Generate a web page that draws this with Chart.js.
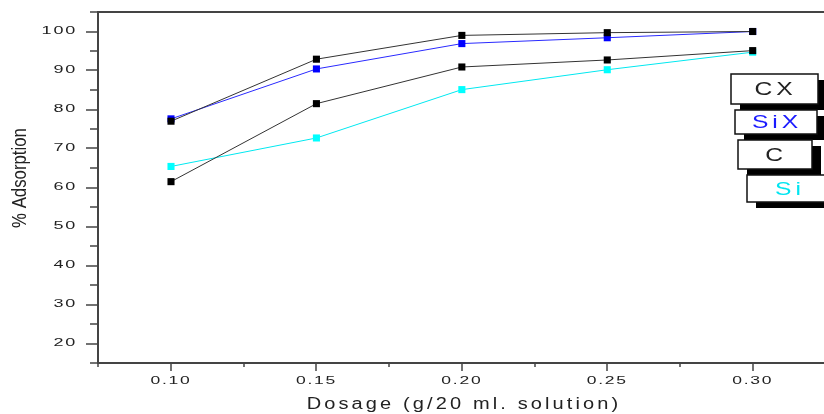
<!DOCTYPE html>
<html>
<head>
<meta charset="utf-8">
<script src="https://cdn.jsdelivr.net/npm/chart.js@4"></script>
<style>
  html, body { margin: 0; padding: 0; background: #fff; overflow: hidden; }
  #wrap { width: 840px; height: 414px; }
</style>
</head>
<body>
<div id="wrap"><canvas id="myChart"></canvas></div>
<script>
const dosage = [0.10, 0.15, 0.20, 0.25, 0.30];
const cx  = [77.0, 92.9, 99.0, 99.7, 100.0];
const six = [77.6, 90.4, 96.9, 98.4, 100.0];
const c   = [61.5, 81.5, 90.9, 92.7, 95.1];
const si  = [65.4, 72.7, 85.1, 90.2, 94.7];
const yTickLabels = [20, 30, 40, 50, 60, 70, 80, 90, 100];
const xTickLabels = [0.10, 0.15, 0.20, 0.25, 0.30];
const xTitle = 'Dosage (g/20 ml. solution)';
const yTitle = '% Adsorption';

const pts = arr => dosage.map((x, i) => ({ x: x, y: arr[i] }));

function series(label, data, line, mark) {
  return {
    label: label,
    data: pts(data),
    borderColor: line,
    borderWidth: 1,
    backgroundColor: mark,
    pointBackgroundColor: mark,
    pointBorderColor: mark,
    pointStyle: 'rect',
    pointRadius: 5,
    pointBorderWidth: 0,
    tension: 0
  };
}

// boxed legend on the right, with black drop shadows
const boxes = [
  { label: 'CX',  color: '#222222', x: 731, y: 74,  w: 87, h: 30 },
  { label: 'SiX', color: '#1a1aff', x: 735, y: 110, w: 82, h: 24 },
  { label: 'C',   color: '#222222', x: 738, y: 140, w: 74, h: 29 },
  { label: 'Si',  color: '#00e5f0', x: 747, y: 175, w: 84, h: 27 }
];

const FONT = '"Liberation Sans", Arial, sans-serif';

// the original uses a wide, spaced font; stretch text horizontally
function wideText(ctx, text, x, y, opts) {
  ctx.save();
  ctx.font = opts.font;
  ctx.letterSpacing = (opts.spacing || 0) + 'px';
  ctx.fillStyle = opts.color || '#222';
  ctx.textAlign = opts.align || 'center';
  ctx.textBaseline = 'middle';
  ctx.translate(x, y);
  if (opts.rotate) ctx.rotate(opts.rotate);
  ctx.scale(opts.sx || 1, 1);
  ctx.fillText(text, 0, 0);
  ctx.restore();
}

const frame = {
  id: 'frame',
  afterDraw(chart) {
    const ctx = chart.ctx;
    const a = chart.chartArea;
    const xs = chart.scales.x, ys = chart.scales.y;
    ctx.save();
    ctx.strokeStyle = '#444';
    ctx.lineWidth = 2;
    ctx.beginPath();
    ctx.moveTo(a.left, a.top);
    ctx.lineTo(a.right, a.top);
    ctx.stroke();

    // tick marks
    ctx.lineWidth = 1.5;
    ctx.beginPath();
    for (let i = 0; i <= 10; i++) {
      const v = 0.075 + i * 0.025;
      const px = Math.round(xs.getPixelForValue(v));
      const len = i % 2 === 1 ? 8 : 4;
      ctx.moveTo(px, a.bottom);
      ctx.lineTo(px, a.bottom + len);
    }
    for (let v = 15; v <= 105; v += 5) {
      const py = Math.round(ys.getPixelForValue(v));
      const len = v % 10 === 0 ? 12 : 8;
      ctx.moveTo(a.left, py);
      ctx.lineTo(a.left - len, py);
    }
    ctx.stroke();
    ctx.restore();

    // tick labels
    const tickFont = '10px ' + FONT;
    xTickLabels.forEach(v => {
      wideText(ctx, v.toFixed(2), xs.getPixelForValue(v), a.bottom + 18,
        { font: tickFont, spacing: 1, sx: 1.75 });
    });
    yTickLabels.forEach(v => {
      wideText(ctx, String(v), a.left - 21, ys.getPixelForValue(v),
        { font: tickFont, spacing: 1, sx: 1.8, align: 'right' });
    });

    // axis titles
    wideText(ctx, xTitle, 464, 405, { font: '16px ' + FONT, spacing: 2.5, sx: 1.25 });
    wideText(ctx, yTitle, 20, 178, { font: '20px ' + FONT, sx: 0.84, rotate: -Math.PI / 2 });

    // legend boxes
    ctx.save();
    boxes.forEach(b => {
      ctx.fillStyle = '#000';
      ctx.fillRect(b.x + 9, b.y + 6, b.w, b.h);
      ctx.fillStyle = '#fff';
      ctx.fillRect(b.x, b.y, b.w, b.h);
      ctx.strokeStyle = '#111';
      ctx.lineWidth = 1.5;
      ctx.strokeRect(b.x, b.y, b.w, b.h);
    });
    ctx.restore();
    boxes.forEach(b => {
      const cxp = b.label === 'Si' ? 789 : b.x + b.w / 2;
      wideText(ctx, b.label, cxp + 1, b.y + b.h / 2 + 1,
        { font: '19px ' + FONT, spacing: 3, sx: 1.3, color: b.color });
    });
  }
};

new Chart(document.getElementById('myChart'), {
  type: 'line',
  data: {
    datasets: [
      series('CX', cx, '#333333', '#000000'),
      series('SiX', six, '#2a2aff', '#0000ff'),
      series('C', c, '#333333', '#000000'),
      series('Si', si, '#00e8f0', '#00ffff')
    ]
  },
  options: {
    responsive: true,
    maintainAspectRatio: false,
    animation: false,
    layout: { padding: { top: 12, right: 0, left: 0, bottom: 0 } },
    plugins: {
      legend: { display: false },
      tooltip: { enabled: false }
    },
    scales: {
      x: {
        type: 'linear',
        min: 0.0749,
        max: 0.3283,
        afterFit: s => { s.height = 51; },
        ticks: { display: false },
        grid: { display: false },
        border: { display: true, color: '#444', width: 2 }
      },
      y: {
        min: 15,
        max: 105,
        afterFit: s => { s.width = 98; },
        ticks: { display: false },
        grid: { display: false },
        border: { display: true, color: '#444', width: 2 }
      }
    }
  },
  plugins: [frame]
});
</script>
</body>
</html>
